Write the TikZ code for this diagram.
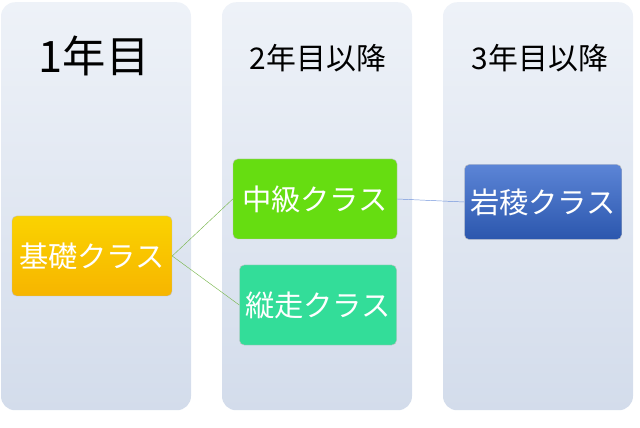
\documentclass[tikz,border=0pt]{standalone}
\usepackage{fontspec}
\setmainfont{Noto Sans CJK JP}
\usetikzlibrary{positioning}

\definecolor{colbg}{HTML}{D3DCEB}
\definecolor{coltop}{HTML}{EEF2F8}
\definecolor{kiso}{HTML}{F7B500}
\definecolor{chukyu}{HTML}{66DD11}
\definecolor{juso}{HTML}{33DD99}
\definecolor{ganryo}{HTML}{3366CC}

\tikzset{
	column/.style={rounded corners=12pt, top color=coltop, bottom color=colbg, minimum width=190*0.03cm, minimum height=408*0.03cm, anchor=north},
	classbox/.style={rounded corners=4pt, draw=black!25, minimum height=80*0.03cm, inner sep=1pt, font=\fontsize{25}{25}\selectfont},
}

\begin{document}
\begin{tikzpicture}[x=0.03cm, y=-0.03cm]
\useasboundingbox (0,0) rectangle (640,428);

% Columns
\node [column] (year1) at (96,2) {};
\node [column] (year2) at (317,2) {};
\node [column] (year3) at (538,2) {};

% Headers
\node [font=\fontsize{37}{37}\selectfont] (head1) at (94,56) {1年目};
\node [font=\fontsize{25.5}{25.5}\selectfont] (head2) at (318,58) {2年目以降};
\node [font=\fontsize{25.5}{25.5}\selectfont] (head3) at (540,58) {3年目以降};

% Classes
\node [classbox,
	top color=kiso!60!yellow, bottom color=kiso,
	text=white,
	minimum width=160*0.03cm,
] (kiso) at (92,256) {基礎クラス};

\node [classbox,
	fill=chukyu,
	text=white,
	minimum width=164*0.03cm,
] (chukyu) at (315,199) {中級クラス};

\node [classbox,
	fill=juso,
	text=white,
	minimum width=157*0.03cm,
] (juso) at (318,305) {縦走クラス};

\node [classbox,
	top color=ganryo!80!white, bottom color=ganryo!85!black,
	text=white,
	minimum width=157*0.03cm,
	minimum height=75*0.03cm,
] (ganryo) at (543,202) {岩稜クラス};

% Connectors
\draw [chukyu!70!black!70] (kiso.east) -- (chukyu.west);
\draw [chukyu!70!black!70] (kiso.east) -- (juso.west);
\draw [ganryo!70] (chukyu.east) -- (ganryo.west);

\end{tikzpicture}
\end{document}
